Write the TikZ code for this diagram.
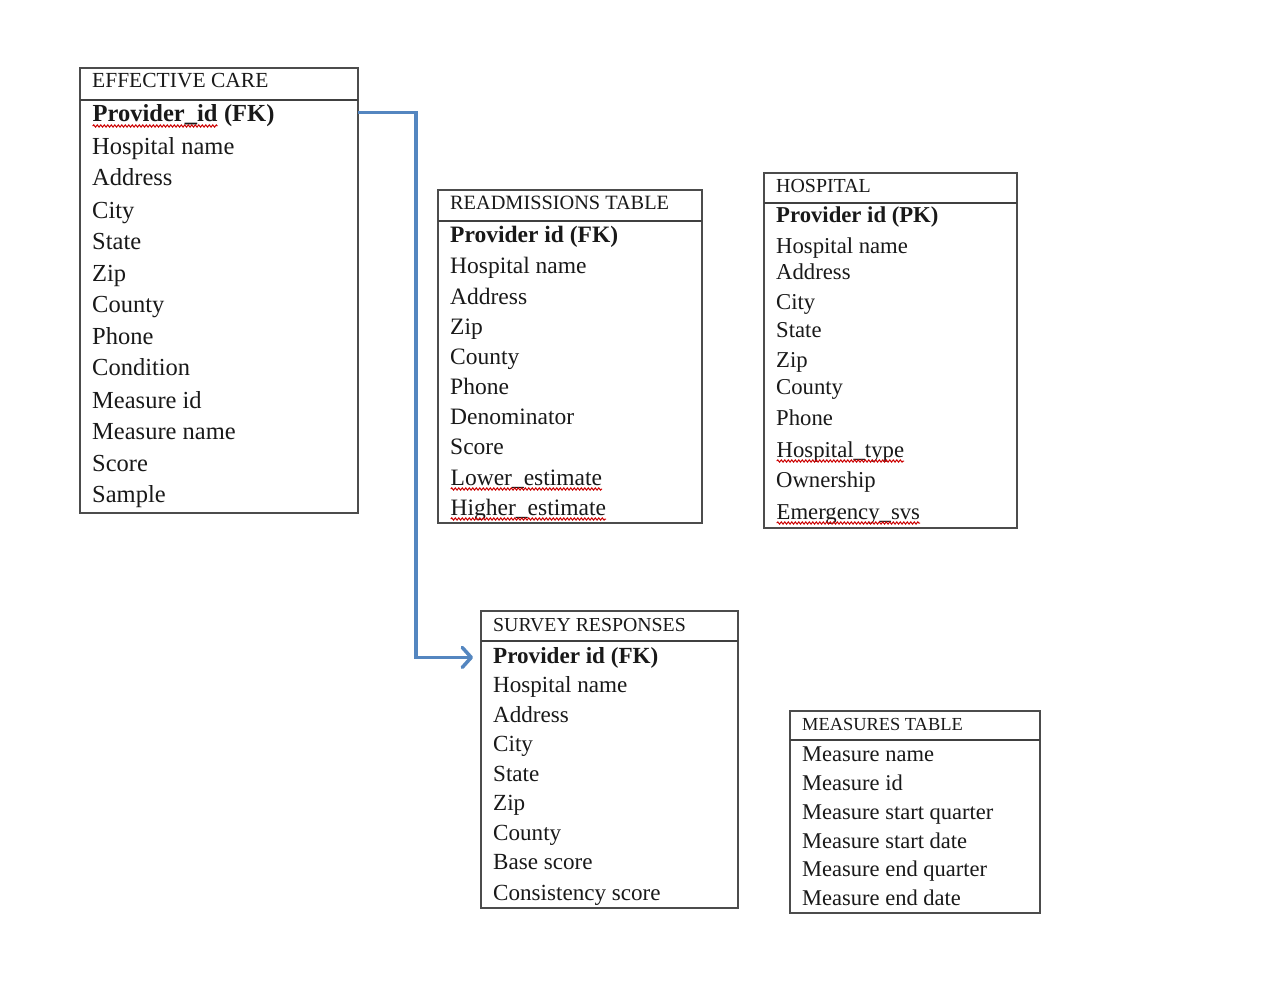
\documentclass[tikz,border=0pt]{standalone}
\usepackage{fontspec}
\setmainfont{Liberation Serif}
\usetikzlibrary{decorations.pathmorphing,arrows.meta}
\newcommand{\sqw}[1]{\tikz[baseline=(sqwn.base)]{\node[inner sep=0pt,outer sep=0pt](sqwn){#1};\draw[red!80!black,line width=1pt,decorate,decoration={snake,amplitude=1.1pt,segment length=3.5pt}]([yshift=-4pt]sqwn.base west)--([yshift=-4pt]sqwn.base east);}}
\tikzset{
  frame/.style={draw=black!70, line width=2pt, anchor=north west, inner sep=0pt, outer sep=0pt},
  frameline/.style={draw=black!75, line width=2pt},
  row/.style={anchor=base west, inner sep=0pt, text=black!90},
  hdr/.style={anchor=base west, inner sep=0pt, text=black!90},
  link/.style={draw={rgb,255:red,84;green,134;blue,192}, line width=3.5pt, line join=miter,
    -{Straight Barb[length=9pt,width=20pt,line cap=round,line join=round]}}
}
\begin{document}
\begin{tikzpicture}[x=1pt,y=-1pt]
\useasboundingbox (0,0) rectangle (1274,1006);
\fill[white] (0,0) rectangle (1274,1006);

% EFFECTIVE CARE
\node[frame, minimum width=278pt, minimum height=445pt] (ec) at (80,68) {};
\draw[frameline] (80,100) -- (358,100);
\node[hdr, font=\fontsize{21.5}{24}\selectfont] (ech) at (92,88) {EFFECTIVE CARE};
\foreach \t/\y [count=\i] in {{\sqw{\bfseries Provider\_id} \textbf{(FK)}}/114, Hospital name/146, Address/177, City/210, State/241, Zip/273, County/304, Phone/336, Condition/367, Measure id/400, Measure name/431, Score/463, Sample/494}
  \node[row, font=\fontsize{24.5}{28}\selectfont] (ec\i) at (92,\y+8) {\t};

% READMISSIONS TABLE
\node[frame, minimum width=264pt, minimum height=333pt] (ra) at (438,190) {};
\draw[frameline] (438,221) -- (702,221);
\node[hdr, font=\fontsize{20.3}{24}\selectfont] (rah) at (450,209) {READMISSIONS TABLE};
\foreach \t/\y [count=\i] in {{\textbf{Provider id (FK)}}/234, Hospital name/265, Address/296, Zip/326, County/356, Phone/386, Denominator/416, Score/446, {\sqw{Lower\_estimate}}/477, {\sqw{Higher\_estimate}}/507}
  \node[row, font=\fontsize{23.5}{27}\selectfont] (ra\i) at (450,\y+8) {\t};

% HOSPITAL
\node[frame, minimum width=253pt, minimum height=355pt] (ho) at (764,173) {};
\draw[frameline] (764,203) -- (1017,203);
\node[hdr, font=\fontsize{19.9}{24}\selectfont] (hoh) at (776,192) {HOSPITAL};
\foreach \t/\y [count=\i] in {{\textbf{Provider id (PK)}}/214, Hospital name/245, Address/271, City/301, State/329, Zip/359, County/386, Phone/417, {\sqw{Hospital\_type}}/449, Ownership/479, {\sqw{Emergency\_svs}}/511}
  \node[row, font=\fontsize{22.7}{26}\selectfont] (ho\i) at (776,\y+8) {\t};

% SURVEY RESPONSES
\node[frame, minimum width=257pt, minimum height=297pt] (sv) at (481,611) {};
\draw[frameline] (481,641) -- (738,641);
\node[hdr, font=\fontsize{19.8}{24}\selectfont] (svh) at (493,631) {SURVEY RESPONSES};
\foreach \t/\y [count=\i] in {{\textbf{Provider id (FK)}}/655, Hospital name/684, Address/714, City/743, State/773, Zip/802, County/832, Base score/861, Consistency score/892}
  \node[row, font=\fontsize{23.1}{26}\selectfont] (sv\i) at (493,\y+8) {\t};

% MEASURES TABLE
\node[frame, minimum width=250pt, minimum height=202pt] (me) at (790,711) {};
\draw[frameline] (790,740) -- (1040,740);
\node[hdr, font=\fontsize{18.4}{22}\selectfont] (meh) at (802,730) {MEASURES TABLE};
\foreach \t/\y [count=\i] in {Measure name/753, Measure id/782, Measure start quarter/811, Measure start date/840, Measure end quarter/868, Measure end date/897}
  \node[row, font=\fontsize{22.5}{26}\selectfont] (me\i) at (802,\y+8) {\t};

% connector
\draw[link] ([yshift=4pt]ec.east |- ec1.center) -- ++(58,0) |- ([xshift=-8pt]sv.west |- sv1.center);
\end{tikzpicture}
\end{document}
